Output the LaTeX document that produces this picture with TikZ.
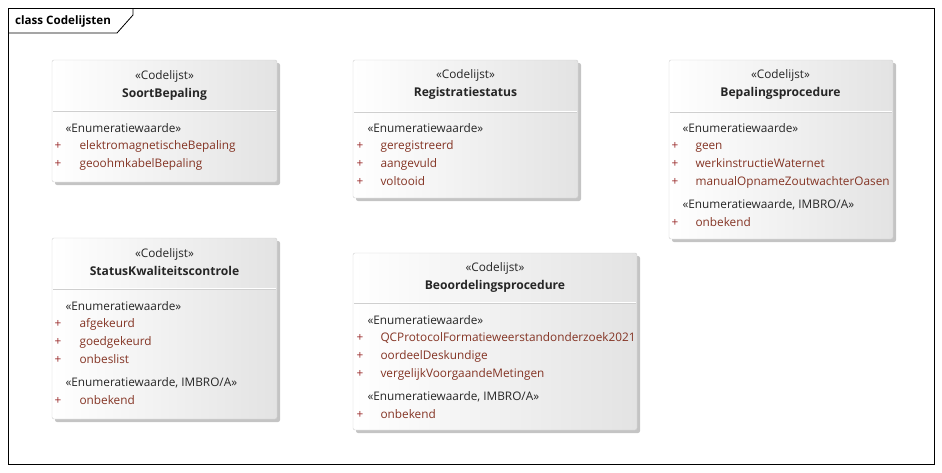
\documentclass[tikz,border=0pt]{standalone}
\usepackage{fontspec}
\setmainfont{Open Sans}
\definecolor{itemred}{HTML}{843424}
\definecolor{plusred}{HTML}{9A2A2A}
\definecolor{boxline}{HTML}{CFCFCF}
\definecolor{boxshade}{HTML}{C4C4C4}
\begin{document}
\begin{tikzpicture}[x=1pt,y=-1pt,font=\fontsize{11.8}{14}\selectfont,
  codebox/.style={draw=boxline,rounded corners=2pt,left color=white,right color=black!11},
  boxshadow/.style={fill=boxshade,rounded corners=2pt},
  stereo/.style={anchor=mid,text=black!85},
  cname/.style={anchor=mid,font=\fontsize{12.1}{14}\selectfont\bfseries,text=black!85},
  enumhead/.style={anchor=mid west,text=black!85},
  plus/.style={anchor=mid,text=plusred},
  item/.style={anchor=mid west,text=itemred}]

\useasboundingbox (0,0) rectangle (942,472);

% frame
\draw[line width=0.8pt] (8,8) rectangle (934,464);
\draw[line width=0.8pt] (8,33) -- (117,33) -- (133,15) -- (133,8);
\node[anchor=mid west,inner sep=0pt,font=\fontsize{11.6}{13}\selectfont\bfseries] (title) at (15,22) {class Codelijsten};

% boxes
\foreach \bn/\xa/\ya/\xb/\yb/\yd in {soort/52/60/277/182/110, regis/353/60/578/198/111,
  bepal/669/60/893/239/111, status/52/238/277/419/288, beoord/353/253/637/430/302}{
\fill[boxshadow] (\xa+3,\ya+3) rectangle (\xb+3,\yb+3);
\path[codebox] (\xa,\ya) rectangle (\xb,\yb);
\draw[white] (\xa+1,\yd) -- (\xb-1,\yd);
\draw[boxline] (\xa+1,\yd+1) -- (\xb-1,\yd+1);
\coordinate (\bn) at (\xa,\ya);
}

% SoortBepaling
\node[stereo] (soort-st) at (164.5,77) {«Codelijst»};
\node[cname] (soort-nm) at (164.5,95) {SoortBepaling};
\node[enumhead] (soort-en) at (62,130) {«Enumeratiewaarde»};
\foreach \y/\t in {147/elektromagnetischeBepaling,165/geoohmkabelBepaling}{
\node[plus] at (58,\y) {+};
\node[item] at (76,\y) {\t};
}

% Registratiestatus
\node[stereo] (regis-st) at (465.5,76) {«Codelijst»};
\node[cname] (regis-nm) at (465.5,94) {Registratiestatus};
\node[enumhead] (regis-en) at (364,130) {«Enumeratiewaarde»};
\foreach \y/\t in {147/geregistreerd,165/aangevuld,183/voltooid}{
\node[plus] at (360,\y) {+};
\node[item] at (377,\y) {\t};
}

% Bepalingsprocedure
\node[stereo] (bepal-st) at (780.5,76) {«Codelijst»};
\node[cname] (bepal-nm) at (780.5,94) {Bepalingsprocedure};
\node[enumhead] (bepal-en) at (679,130) {«Enumeratiewaarde»};
\foreach \y/\t in {147/geen,165/werkinstructieWaternet,183/manualOpnameZoutwachterOasen}{
\node[plus] at (675,\y) {+};
\node[item] at (692,\y) {\t};
}
\node[enumhead] (bepal-en2) at (679,206) {«Enumeratiewaarde, IMBRO/A»};
\node[plus] at (675,224) {+};
\node[item] at (692,224) {onbekend};

% StatusKwaliteitscontrole
\node[stereo] (status-st) at (164.5,255) {«Codelijst»};
\node[cname] (status-nm) at (164.5,273) {StatusKwaliteitscontrole};
\node[enumhead] (status-en) at (62,308) {«Enumeratiewaarde»};
\foreach \y/\t in {325/afgekeurd,343/goedgekeurd,361/onbeslist}{
\node[plus] at (58,\y) {+};
\node[item] at (76,\y) {\t};
}
\node[enumhead] (status-en2) at (62,384) {«Enumeratiewaarde, IMBRO/A»};
\node[plus] at (58,402) {+};
\node[item] at (76,402) {onbekend};

% Beoordelingsprocedure
\node[stereo] (beoord-st) at (495,269) {«Codelijst»};
\node[cname] (beoord-nm) at (495,287) {Beoordelingsprocedure};
\node[enumhead] (beoord-en) at (364,322) {«Enumeratiewaarde»};
\foreach \y/\t in {339/QCProtocolFormatieweerstandonderzoek2021,357/oordeelDeskundige,375/vergelijkVoorgaandeMetingen}{
\node[plus] at (360,\y) {+};
\node[item] at (377,\y) {\t};
}
\node[enumhead] (beoord-en2) at (364,398) {«Enumeratiewaarde, IMBRO/A»};
\node[plus] at (360,416) {+};
\node[item] at (377,416) {onbekend};
\end{tikzpicture}
\end{document}
